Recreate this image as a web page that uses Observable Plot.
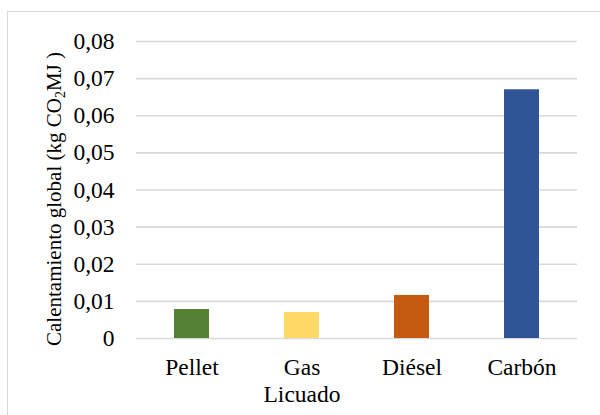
<!DOCTYPE html>
<html>
<head>
<meta charset="utf-8">
<script src="https://cdn.jsdelivr.net/npm/d3@7"></script>
<script src="https://cdn.jsdelivr.net/npm/@observablehq/plot@0.6"></script>
<style>
  html, body { margin: 0; padding: 0; background: #fff; }
  #wrap { position: relative; width: 600px; height: 415px; overflow: hidden; }
  #border { position: absolute; left: 7px; top: 11px; width: 700px; height: 500px;
            border-left: 1.5px solid #d9d9d9; border-top: 1.5px solid #d9d9d9; }
  #chart { position: absolute; left: 0; top: 0; }
</style>
</head>
<body>
<div id="wrap"><div id="border"></div><div id="chart"></div></div>
<script>
// Global warming potential per fuel
const fuels = ["Pellet", "Gas Licuado", "Diésel", "Carbón"];
const values = [0.0078, 0.0070, 0.0116, 0.067];
const colors = ["#548235", "#FFD966", "#C55A11", "#2F5597"];
const yTicks = [0, 0.01, 0.02, 0.03, 0.04, 0.05, 0.06, 0.07, 0.08];

const data = fuels.map((f, i) => ({fuel: f, value: values[i], color: colors[i]}));
const fmt = d => d === 0 ? "0" : d.toFixed(2).replace(".", ",");
const serif = "Liberation Serif";

const plot = Plot.plot({
  width: 600,
  height: 415,
  marginLeft: 136,
  marginRight: 23,
  marginTop: 41,
  marginBottom: 77,
  style: {fontFamily: serif, fontSize: "23.5px", background: "transparent", overflow: "visible"},
  x: {domain: fuels, paddingInner: 0.68, paddingOuter: 0.34, label: null},
  y: {domain: [0, 0.08], label: null},
  marks: [
    Plot.gridY(yTicks, {stroke: "#d9d9d9", strokeOpacity: 1, strokeWidth: 1.7}),
    Plot.barY(data, {x: "fuel", y: "value", fill: "color"}),
    Plot.axisY(yTicks, {tickSize: 0, tickPadding: 22, tickFormat: fmt, fontSize: 23.5, fontFamily: serif, label: null}),
    Plot.axisX({tickSize: 0, tickPadding: 17.5, fontSize: 23.5, fontFamily: serif, lineHeight: 1.15,
                tickFormat: d => d.replace(" ", "\n"), label: null})
  ]
});
document.getElementById("chart").appendChild(plot);

// Rotated y-axis title with a subscripted 2
const svg = d3.select(plot);
const t = svg.append("text")
  .attr("transform", "translate(61,199) rotate(-90)")
  .attr("text-anchor", "middle")
  .attr("font-family", serif)
  .attr("font-size", 21)
  .attr("fill", "#000");
t.append("tspan").text("Calentamiento global (kg CO");
t.append("tspan").attr("font-size", 14).attr("dy", 4).text("2");
t.append("tspan").attr("dy", -4).text("MJ )");
</script>
</body>
</html>
